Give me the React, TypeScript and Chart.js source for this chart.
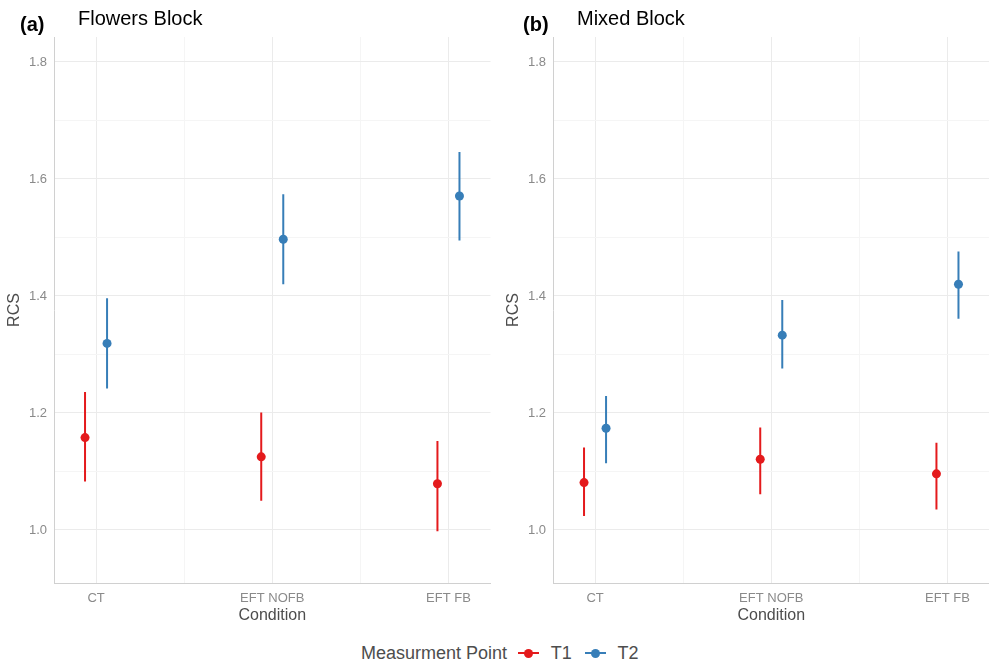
import React, { useEffect, useRef } from 'react';
import { Chart, registerables } from 'chart.js';

Chart.register(...registerables);

// ---------- data ----------
const categories = ['CT', 'EFT NOFB', 'EFT FB'];
const seriesNames = ['T1', 'T2'];
const yTickValues = [1.0, 1.2, 1.4, 1.6, 1.8];
const yMinorValues = [1.1, 1.3, 1.5, 1.7];
const xMinorValues = [0.5, 1.5];

const flowersT1Mean = [1.158, 1.125, 1.079];
const flowersT1Low = [1.083, 1.05, 0.998];
const flowersT1High = [1.236, 1.201, 1.152];
const flowersT2Mean = [1.319, 1.497, 1.571];
const flowersT2Low = [1.242, 1.42, 1.495];
const flowersT2High = [1.396, 1.574, 1.646];

const mixedT1Mean = [1.081, 1.121, 1.096];
const mixedT1Low = [1.024, 1.061, 1.035];
const mixedT1High = [1.141, 1.175, 1.149];
const mixedT2Mean = [1.174, 1.333, 1.42];
const mixedT2Low = [1.114, 1.276, 1.361];
const mixedT2High = [1.229, 1.393, 1.476];

// ---------- style ----------
const FONT = '"Liberation Sans", Arial, Helvetica, sans-serif';
const RED = '#E41A1C';
const BLUE = '#377EB8';
const seriesColors = [RED, BLUE];
const MAJOR = '#ebebeb';
const MINOR = '#f5f5f5';
const AXIS = '#d0d0d0';
const TICK_COLOR = '#8a8a8a';
const TITLE_COLOR = '#4d4d4d';
const DODGE = 0.0625;
const X_MIN = -0.2386;
const X_MAX = 2.2386;
const Y_MIN = 0.9094;
const Y_MAX = 1.8427;

type Panel = {
  tag: string;
  title: string;
  tagX: number;
  means: number[][];
  lows: number[][];
  highs: number[][];
};

const panels: Panel[] = [
  {
    tag: '(a)',
    title: 'Flowers Block',
    tagX: 20,
    means: [flowersT1Mean, flowersT2Mean],
    lows: [flowersT1Low, flowersT2Low],
    highs: [flowersT1High, flowersT2High],
  },
  {
    tag: '(b)',
    title: 'Mixed Block',
    tagX: 24,
    means: [mixedT1Mean, mixedT2Mean],
    lows: [mixedT1Low, mixedT2Low],
    highs: [mixedT1High, mixedT2High],
  },
];

function makeChart(canvas: HTMLCanvasElement, panel: Panel) {
  const datasets: any[] = [];
  seriesNames.forEach((name, si) => {
    const off = si === 0 ? -DODGE : DODGE;
    const color = seriesColors[si];
    datasets.push({
      type: 'bar',
      label: name + ' interval',
      data: panel.means[si].map((_, i) => ({ x: i + off, y: [panel.lows[si][i], panel.highs[si][i]] })),
      backgroundColor: color,
      borderWidth: 0,
      grouped: false,
      maxBarThickness: 2,
      inflateAmount: 0,
      order: 2,
    });
    datasets.push({
      type: 'scatter',
      label: name,
      data: panel.means[si].map((m, i) => ({ x: i + off, y: m })),
      backgroundColor: color,
      borderColor: color,
      borderWidth: 0,
      pointRadius: 4.5,
      order: 1,
    });
  });

  const titlePlugin = {
    id: 'panelTitle',
    afterDraw(chart: any) {
      const ctx = chart.ctx;
      ctx.save();
      ctx.fillStyle = '#000';
      ctx.textBaseline = 'alphabetic';
      ctx.textAlign = 'left';
      ctx.font = `bold 20px ${FONT}`;
      ctx.fillText(panel.tag, panel.tagX, 31);
      ctx.font = `20px ${FONT}`;
      ctx.fillText(panel.title, chart.chartArea.left + 24, 25);
      ctx.restore();
    },
  };

  return new Chart(canvas, {
    type: 'scatter',
    data: { datasets },
    plugins: [titlePlugin],
    options: {
      animation: false,
      responsive: false,
      devicePixelRatio: 1,
      events: [],
      layout: { padding: { top: 37, left: 0, right: 0, bottom: 0 } },
      plugins: { legend: { display: false }, tooltip: { enabled: false }, title: { display: false } },
      scales: {
        x: {
          type: 'linear',
          min: X_MIN,
          max: X_MAX,
          offset: false,
          afterBuildTicks: (s: any) => {
            s.ticks = [0, 1, 2, ...xMinorValues].sort((a, b) => a - b).map((v) => ({ value: v }));
          },
          afterFit: (s: any) => {
            s.height = 42;
          },
          ticks: {
            autoSkip: false,
            maxRotation: 0,
            minRotation: 0,
            padding: 8,
            color: TICK_COLOR,
            font: { family: FONT, size: 13 },
            callback: (v: any) => (Number.isInteger(v) ? categories[v] : ''),
          },
          grid: {
            offset: false,
            drawTicks: false,
            lineWidth: 1,
            color: (c: any) => (c.tick && Number.isInteger(c.tick.value) ? MAJOR : MINOR),
          },
          border: { display: true, color: AXIS, width: 1 },
          title: {
            display: true,
            text: 'Condition',
            color: TITLE_COLOR,
            font: { family: FONT, size: 16 },
            padding: { top: 0, bottom: -0.6 },
          },
        },
        y: {
          type: 'linear',
          min: Y_MIN,
          max: Y_MAX,
          afterBuildTicks: (s: any) => {
            s.ticks = [...yTickValues, ...yMinorValues].sort((a, b) => a - b).map((v) => ({ value: v }));
          },
          afterFit: (s: any) => {
            s.width = 54;
          },
          ticks: {
            padding: 7,
            color: TICK_COLOR,
            font: { family: FONT, size: 13 },
            callback: (v: any) => (yTickValues.includes(v) ? Number(v).toFixed(1) : ''),
          },
          grid: {
            drawTicks: false,
            lineWidth: 1,
            color: (c: any) => (c.tick && yTickValues.includes(c.tick.value) ? MAJOR : MINOR),
          },
          border: { display: true, color: AXIS, width: 1 },
          title: {
            display: true,
            text: 'RCS',
            color: TITLE_COLOR,
            font: { family: FONT, size: 16 },
            padding: { top: 4.5, bottom: 0 },
          },
        },
      },
    } as any,
  });
}

function PanelChart({ panel, left, width }: { panel: Panel; left: number; width: number }) {
  const ref = useRef<HTMLCanvasElement | null>(null);
  useEffect(() => {
    if (!ref.current) return;
    const chart = makeChart(ref.current, panel);
    return () => chart.destroy();
  }, [panel]);
  return (
    <div style={{ position: 'absolute', left, top: 0, width, height: 625 }}>
      <canvas ref={ref} width={width} height={625} style={{ width, height: 625, display: 'block' }} />
    </div>
  );
}

function LegendKey({ color }: { color: string }) {
  return (
    <div style={{ position: 'relative', width: 21, height: 2, background: color }}>
      <div
        style={{
          position: 'absolute',
          left: 6,
          top: -3.5,
          width: 9,
          height: 9,
          borderRadius: '50%',
          background: color,
        }}
      />
    </div>
  );
}

export default function App() {
  return (
    <div
      style={{
        position: 'absolute',
        left: 0,
        top: 0,
        width: 989,
        height: 668,
        background: '#ffffff',
        overflow: 'hidden',
      }}
    >
      <PanelChart panel={panels[0]} left={0} width={495} />
      <PanelChart panel={panels[1]} left={499} width={495} />
      <div
        style={{
          position: 'absolute',
          left: 361,
          top: 641,
          height: 24,
          display: 'flex',
          alignItems: 'center',
          fontFamily: FONT,
          fontSize: 18,
          color: TITLE_COLOR,
          whiteSpace: 'nowrap',
        }}
      >
        <span>Measurment Point</span>
        {seriesNames.map((name, i) => (
          <React.Fragment key={name}>
            <div style={{ marginLeft: i === 0 ? 11 : 13 }}>
              <LegendKey color={seriesColors[i]} />
            </div>
            <span style={{ marginLeft: 11.7 }}>{name}</span>
          </React.Fragment>
        ))}
      </div>
    </div>
  );
}
